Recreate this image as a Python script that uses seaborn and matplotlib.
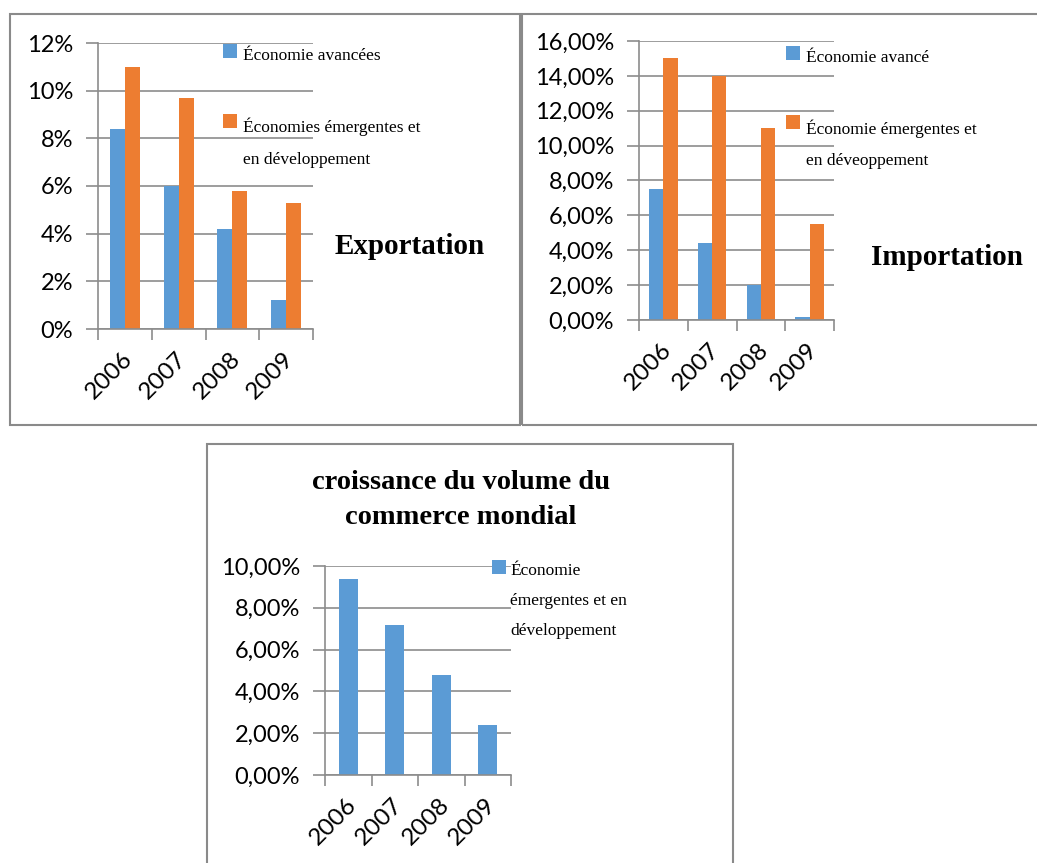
import matplotlib
matplotlib.use("Agg")
import matplotlib.pyplot as plt
import matplotlib.patches as mpatches
import matplotlib.transforms as mtransforms
from matplotlib.ticker import FuncFormatter, FixedLocator
import seaborn as sns
import pandas as pd

# ---------------- data ----------------
years = ["2006", "2007", "2008", "2009"]

export_avancees = [8.4, 6.0, 4.2, 1.2]
export_emergentes = [11.0, 9.7, 5.8, 5.3]
export_labels = ["Économie avancées", "Économies émergentes et\nen développement"]

import_avancees = [7.5, 4.4, 2.0, 0.2]
import_emergentes = [15.0, 14.0, 11.0, 5.5]
import_labels = ["Économie avancé", "Économie émergentes et\nen déveoppement"]

commerce_emergentes = [9.4, 7.2, 4.8, 2.4]
commerce_label = "Économie\némergentes et en\ndéveloppement"

titles = ["Exportation", "Importation", "croissance du volume du\ncommerce mondial"]

BLUE = "#5B9BD5"
ORANGE = "#ED7D31"
GRID = "#8C8C8C"

sns.set_style("white")
plt.rcParams["font.family"] = ["Lato", "DejaVu Sans"]
plt.rcParams["text.color"] = "black"
plt.rcParams["xtick.labelcolor"] = "black"
plt.rcParams["ytick.labelcolor"] = "black"

W, H = 1037, 863
fig = plt.figure(figsize=(W / 100, H / 100), dpi=100)


def px_axes(x0, y0, x1, y1):
    return fig.add_axes([x0 / W, 1 - y1 / H, (x1 - x0) / W, (y1 - y0) / H])


def fx(x):
    return x / W


def fy(y):
    return 1 - y / H


def box(x0, y0, x1, y1):
    fig.add_artist(mpatches.Rectangle((fx(x0), fy(y1)), fx(x1) - fx(x0), fy(y0) - fy(y1),
                                      transform=fig.transFigure, fill=False,
                                      edgecolor="#8A8A8A", linewidth=1.5))


def legend_item(x, y, color, text, textdx=20, textdy=4, size=12.5, spacing=2.3):
    fig.add_artist(mpatches.Rectangle((fx(x), fy(y + 14)), 14 / W, 14 / H,
                                      transform=fig.transFigure, facecolor=color,
                                      edgecolor="none"))
    fig.text(fx(x + textdx), fy(y + textdy), text, ha="left", va="top", fontsize=size,
             family="Liberation Serif", linespacing=spacing)


def style_axes(ax, ymax, step, fmt):
    ax.set_xlim(-0.5, 3.5)
    ax.set_ylim(0, ymax)
    ticks = [i * step for i in range(int(round(ymax / step)) + 1)]
    ax.yaxis.set_major_locator(FixedLocator(ticks))
    ax.yaxis.set_major_formatter(FuncFormatter(fmt))
    ax.grid(axis="y", color=GRID, linewidth=1.2, zorder=0)
    ax.set_axisbelow(True)
    for s in ["top", "right"]:
        ax.spines[s].set_visible(False)
    for s in ["left", "bottom"]:
        ax.spines[s].set_color(GRID)
        ax.spines[s].set_linewidth(1.2)
    ax.tick_params(axis="y", which="major", length=9, width=1.2, color=GRID,
                   labelsize=17, pad=9, left=True)
    ax.set_xticks(range(len(years)))
    ax.set_xticklabels(years, rotation=45, ha="right", rotation_mode="anchor")
    ax.tick_params(axis="x", which="major", length=0, labelsize=17.5, pad=14)
    offset = mtransforms.ScaledTranslation(-3 / 100, 0, fig.dpi_scale_trans)
    for lab in ax.get_xticklabels():
        lab.set_transform(lab.get_transform() + offset)
    ax.set_xticks([-0.5, 0.5, 1.5, 2.5, 3.5], minor=True)
    ax.tick_params(axis="x", which="minor", length=8, width=1.2, color=GRID,
                   bottom=True)
    ax.set_xlabel("")
    ax.set_ylabel("")


pct0 = lambda v, p: f"{v:.0f}%"
pct2 = lambda v, p: f"{v:.2f}%".replace(".", ",")

# ---------------- panel 1: Exportation ----------------
df1 = pd.DataFrame({
    "year": years * 2,
    "value": export_avancees + export_emergentes,
    "group": [export_labels[0]] * 4 + [export_labels[1]] * 4,
})
ax1 = px_axes(98, 43, 313, 329)
sns.barplot(data=df1, x="year", y="value", hue="group", order=years,
            hue_order=export_labels, palette=[BLUE, ORANGE], width=0.56,
            legend=False, linewidth=0, saturation=1, ax=ax1)
style_axes(ax1, 12, 2, pct0)
box(10, 14, 520, 425)
legend_item(223, 44, BLUE, export_labels[0])
legend_item(223, 114, ORANGE, export_labels[1])
fig.text(fx(335), fy(246), titles[0], ha="left", va="center", fontsize=21,
         fontweight="bold", family="Liberation Serif")

# ---------------- panel 2: Importation ----------------
df2 = pd.DataFrame({
    "year": years * 2,
    "value": import_avancees + import_emergentes,
    "group": [import_labels[0]] * 4 + [import_labels[1]] * 4,
})
ax2 = px_axes(639, 41, 834, 320)
sns.barplot(data=df2, x="year", y="value", hue="group", order=years,
            hue_order=import_labels, palette=[BLUE, ORANGE], width=0.58,
            legend=False, linewidth=0, saturation=1, ax=ax2)
style_axes(ax2, 16, 2, pct2)
box(522, 14, 1045, 425)
legend_item(786, 46, BLUE, import_labels[0])
legend_item(786, 115, ORANGE, import_labels[1])
fig.text(fx(871), fy(257), titles[1], ha="left", va="center", fontsize=21,
         fontweight="bold", family="Liberation Serif")

# ---------------- panel 3: commerce mondial ----------------
df3 = pd.DataFrame({"year": years, "value": commerce_emergentes})
ax3 = px_axes(325, 566, 511, 775)
sns.barplot(data=df3, x="year", y="value", order=years, color=BLUE,
            width=0.4, linewidth=0, saturation=1, ax=ax3)
style_axes(ax3, 10, 2, pct2)
box(207, 444, 733, 875)
legend_item(492, 560, BLUE, commerce_label, textdx=18, textdy=3, spacing=2.15)
fig.text(fx(461), fy(500), titles[2], ha="center", va="center", fontsize=20.5,
         fontweight="bold", family="Liberation Serif", linespacing=1.5)

fig.savefig("out.png", dpi=100, facecolor="white")
